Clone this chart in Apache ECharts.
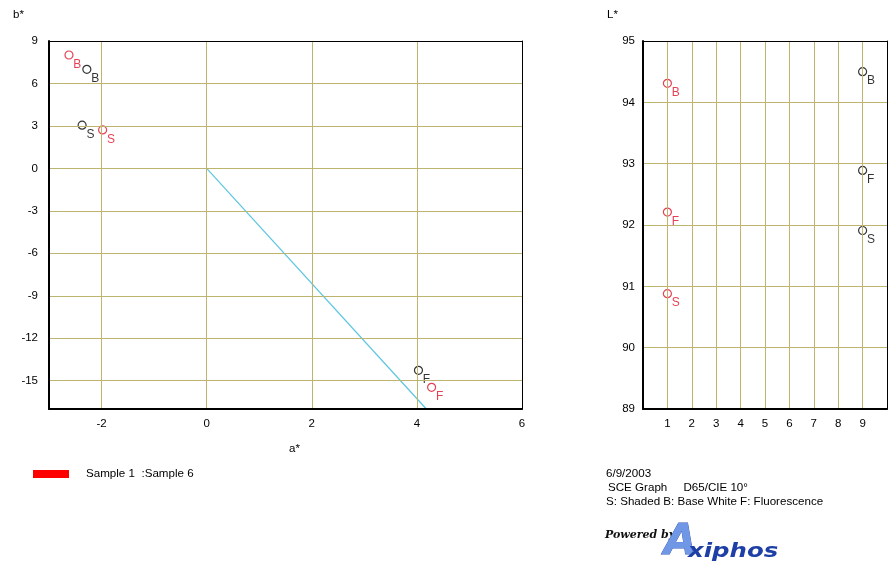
<!DOCTYPE html>
<html>
<head>
<meta charset="utf-8">
<script src="https://cdn.jsdelivr.net/npm/echarts@6/dist/echarts.min.js"></script>
<style>
  html, body { margin: 0; padding: 0; background: #ffffff; }
  #chart { width: 891px; height: 565px; }
</style>
</head>
<body>
<div id="chart"></div>
<script>
// a*/b* plane: sample points (a*, b*, letter)
const abSample1 = [[-2.28, 7.0, 'B'], [-2.37, 3.05, 'S'], [4.03, -14.27, 'F']];
const abSample6 = [[-2.62, 8.01, 'B'], [-1.98, 2.72, 'S'], [4.28, -15.47, 'F']];
// direction line from the origin
const abLine = [[0, 0], [4.18, -17]];
// L* per measurement
const lSample1 = [[9, 94.5, 'B'], [9, 92.89, 'F'], [9, 91.91, 'S']];
const lSample6 = [[1, 94.31, 'B'], [1, 92.21, 'F'], [1, 90.88, 'S']];
// tick positions
const aTicks = [-2, 0, 2, 4, 6];
const bTicks = [9, 6, 3, 0, -3, -6, -9, -12, -15];

const FONT = '"Liberation Sans", Arial, sans-serif';
const GRID_COLOR = '#bdb56e';
const RED = '#e0102a';

const chart = echarts.init(document.getElementById('chart'), null, { renderer: 'canvas' });

function pointSeries(name, data, color, xi, yi) {
  return {
    name: name,
    type: 'scatter',
    xAxisIndex: xi,
    yAxisIndex: yi,
    data: data,
    symbol: 'circle',
    symbolSize: 8,
    itemStyle: { color: 'rgba(255,255,255,0)', borderColor: color, borderWidth: 1.2 },
    label: {
      show: true,
      position: [9, 8],
      formatter: p => p.data[2],
      color: color,
      fontFamily: FONT,
      fontSize: 12
    },
    emphasis: { disabled: true },
    z: 5
  };
}

const axisLabelStyle = { color: '#000', fontFamily: FONT, fontSize: 11.5 };

// plain frame edge on the opposite side of each plot
function frameAxis(gridIndex, position, min, max) {
  return {
    gridIndex: gridIndex, type: 'value', position: position, min: min, max: max,
    axisLine: { show: true, onZero: false, lineStyle: { color: '#000', width: 1 } },
    axisTick: { show: false }, axisLabel: { show: false }, splitLine: { show: false },
    z: 10
  };
}

const option = {
  animation: false,
  backgroundColor: '#ffffff',
  grid: [
    { left: 49, top: 41, width: 473, height: 368 },
    { left: 643, top: 41, width: 244, height: 368 }
  ],
  xAxis: [
    {
      gridIndex: 0, type: 'value', min: -3, max: 6,
      axisLine: { show: true, onZero: false, lineStyle: { color: '#000', width: 2 } },
      axisTick: { show: false, customValues: aTicks },
      axisLabel: Object.assign({ customValues: aTicks, margin: 9 }, axisLabelStyle),
      splitLine: { show: true, lineStyle: { color: GRID_COLOR, width: 1 } },
      z: 10
    },
    {
      gridIndex: 1, type: 'value', min: 0, max: 10, interval: 1,
      axisLine: { show: true, onZero: false, lineStyle: { color: '#000', width: 2 } },
      axisTick: { show: false },
      axisLabel: Object.assign({ showMinLabel: false, showMaxLabel: false, margin: 9 }, axisLabelStyle),
      splitLine: { show: true, lineStyle: { color: GRID_COLOR, width: 1 } },
      z: 10
    },
    frameAxis(0, 'top', -3, 6),
    frameAxis(1, 'top', 0, 10)
  ],
  yAxis: [
    {
      gridIndex: 0, type: 'value', min: -17, max: 9,
      axisLine: { show: true, onZero: false, lineStyle: { color: '#000', width: 2 } },
      axisTick: { show: false, customValues: bTicks },
      axisLabel: Object.assign({ customValues: bTicks, margin: 11 }, axisLabelStyle),
      splitLine: { show: true, lineStyle: { color: GRID_COLOR, width: 1 } },
      z: 10
    },
    {
      gridIndex: 1, type: 'value', min: 89, max: 95, interval: 1,
      axisLine: { show: true, onZero: false, lineStyle: { color: '#000', width: 2 } },
      axisTick: { show: false },
      axisLabel: Object.assign({ margin: 8 }, axisLabelStyle),
      splitLine: { show: true, lineStyle: { color: GRID_COLOR, width: 1 } },
      z: 10
    },
    frameAxis(0, 'right', -17, 9),
    frameAxis(1, 'right', 89, 95)
  ],
  series: [
    {
      type: 'line', xAxisIndex: 0, yAxisIndex: 0, data: abLine,
      symbol: 'none', lineStyle: { color: '#5cc6e0', width: 1.2 },
      emphasis: { disabled: true }, z: 3
    },
    pointSeries('Sample 1', abSample1, '#000000', 0, 0),
    pointSeries('Sample 6', abSample6, RED, 0, 0),
    pointSeries('Sample 1', lSample1, '#000000', 1, 1),
    pointSeries('Sample 6', lSample6, RED, 1, 1)
  ],
  graphic: [
    { type: 'text', left: 13, top: 9, style: { text: 'b*', fill: '#000', font: '11.5px ' + FONT } },
    { type: 'text', left: 289, top: 443, style: { text: 'a*', fill: '#000', font: '11.5px ' + FONT } },
    { type: 'text', left: 607, top: 9, style: { text: 'L*', fill: '#000', font: '11.5px ' + FONT } },
    { type: 'rect', shape: { x: 33, y: 470, width: 36, height: 8 }, style: { fill: '#ff0000' } },
    { type: 'text', left: 86, top: 468, style: { text: 'Sample 1  :Sample 6', fill: '#000', font: '11.6px ' + FONT } },
    { type: 'text', left: 606, top: 468, style: { text: '6/9/2003', fill: '#000', font: '11.6px ' + FONT } },
    { type: 'text', left: 608, top: 482, style: { text: 'SCE Graph     D65/CIE 10°', fill: '#000', font: '11.6px ' + FONT } },
    { type: 'text', left: 606, top: 496, style: { text: 'S: Shaded B: Base White F: Fluorescence', fill: '#000', font: '11.6px ' + FONT } },
    { type: 'text', left: 605, top: 530, style: { text: 'Powered by', fill: '#111', font: 'italic bold 11px "DejaVu Serif", serif' } },
    { type: 'text', x: 664, y: 522, style: { text: 'A', fill: '#7096e6', font: 'italic bold 42px "DejaVu Sans", sans-serif', stroke: '#2f55b8', lineWidth: 0.8 } },
    { type: 'text', x: 688, y: 542, scaleX: 1.22, style: { text: 'xiphos', fill: '#1d3fa6', font: 'italic bold 20px "DejaVu Sans", sans-serif' } }
  ]
};

chart.setOption(option);
</script>
</body>
</html>
